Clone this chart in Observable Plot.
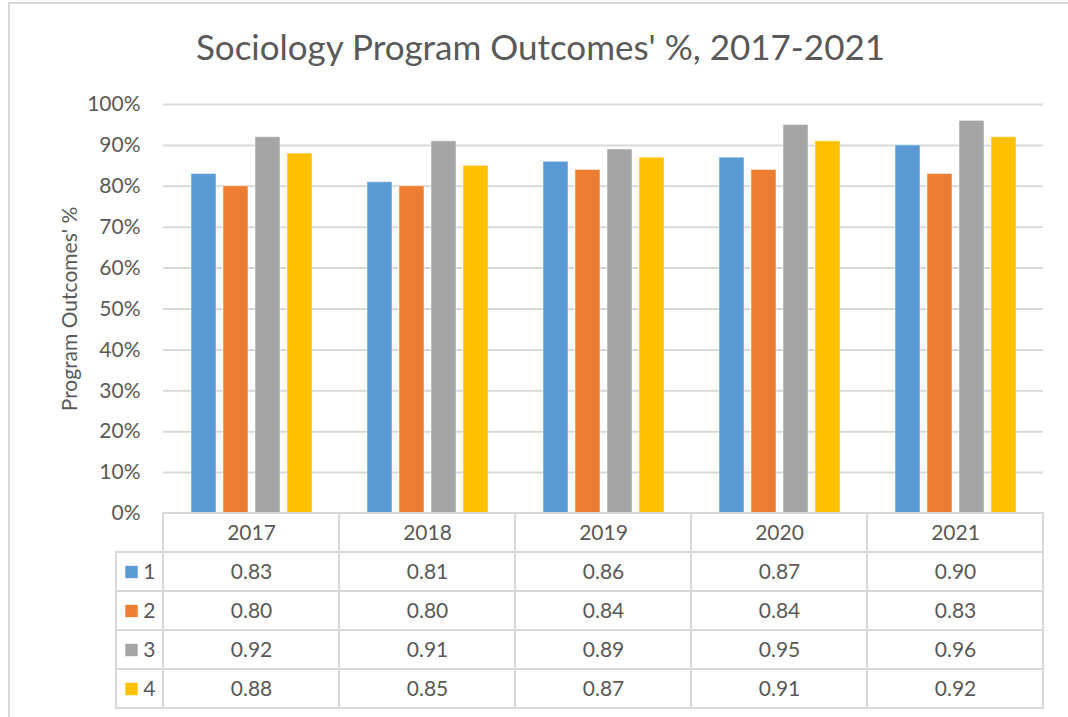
<!DOCTYPE html>
<html><head><meta charset="utf-8">
<script src="https://cdn.jsdelivr.net/npm/d3@7"></script>
<script src="https://cdn.jsdelivr.net/npm/@observablehq/plot@0.6"></script>
<style>
body{margin:0;background:#fff;width:1068px;height:717px;overflow:hidden;position:relative;font-family:Lato,sans-serif;}
#frame{position:absolute;left:8px;top:2px;width:1100px;height:800px;border-top:2px solid #d9d9d9;border-left:2px solid #d9d9d9;}
#title{position:absolute;left:0;width:1081px;top:25px;text-align:center;font-size:35px;color:#595959;white-space:nowrap;}
#chart,#table{position:absolute;left:0;}
#chart{top:0}
#table{top:500px}
</style></head><body>
<div id="frame"></div>
<div id="title"></div>
<div id="chart"></div><div id="table"></div>
<script>
const titleText = "Sociology Program Outcomes' %, 2017-2021";
const yLabel = "Program Outcomes' %";
const years = ["2017","2018","2019","2020","2021"];
const seriesNames = ["1","2","3","4"];
const s1 = [0.83,0.81,0.86,0.87,0.90];
const s2 = [0.80,0.80,0.84,0.84,0.83];
const s3 = [0.92,0.91,0.89,0.95,0.96];
const s4 = [0.88,0.85,0.87,0.91,0.92];
const colors = ["#5B9BD5","#ED7D31","#A5A5A5","#FFC000"];
const yTicks = [0,0.1,0.2,0.3,0.4,0.5,0.6,0.7,0.8,0.9,1.0];

document.getElementById("title").textContent = titleText;

const seriesValues = [s1,s2,s3,s4];
const data = years.flatMap((yr,i)=> seriesNames.map((s,j)=>({year:yr, series:s, value:seriesValues[j][i]})));
const textColor = "#595959";
const gridColor = "#d9d9d9";
const baseStyle = {fontFamily:"Lato, sans-serif", fontSize:"21px", color:textColor, background:"transparent", overflow:"visible"};

const chart = Plot.plot({
  width:1068, height:525, marginTop:104, marginBottom:12, marginLeft:163, marginRight:25,
  style: baseStyle,
  fx:{domain:years, padding:0, axis:null},
  x:{domain:seriesNames, paddingInner:0.22, paddingOuter:0.86, axis:null},
  y:{domain:[0,1], ticks:yTicks, tickFormat:d3.format(".0%"), tickSize:0, tickPadding:23, label:null},
  color:{domain:seriesNames, range:colors},
  marks:[
    Plot.ruleY(yTicks.slice(1), {stroke:gridColor, strokeWidth:2}),
    Plot.barY(data, {fx:"year", x:"series", y:"value", fill:"series", stroke:"#ffffff", strokeOpacity:0.5, strokeWidth:1}),
    Plot.text([yLabel], {fx:()=>years[0], text:d=>d, frameAnchor:"left", rotate:-90, dx:-93, textAnchor:"middle", fontSize:21, fill:textColor})
  ]
});
document.getElementById("chart").appendChild(chart);

// data table
const keyW = 47/176;
const fmt = d3.format(".2f");
const headerCells = years.map((yr,i)=>({x1:i, x2:i+1, row:"header", text:yr}));
const valueCells = seriesNames.flatMap((s,j)=> years.map((yr,i)=>({x1:i, x2:i+1, row:s, text:fmt(seriesValues[j][i])})));
const keyCells = seriesNames.map(s=>({x1:-keyW, x2:0, row:s}));
const cells = [...headerCells, ...valueCells];

const table = Plot.plot({
  width:1068, height:220, marginTop:13, marginBottom:12, marginLeft:116, marginRight:25,
  style: baseStyle,
  x:{type:"linear", domain:[-keyW, years.length], axis:null},
  y:{type:"band", domain:["header", ...seriesNames], padding:0, axis:null},
  color:{domain:seriesNames, range:colors},
  marks:[
    Plot.barX([...cells, ...keyCells], {x1:"x1", x2:"x2", y:"row", fill:"white", stroke:gridColor, strokeWidth:2}),
    Plot.text(cells, {x:d=>(d.x1+d.x2)/2, y:"row", text:"text", fill:textColor}),
    Plot.dot(seriesNames, {x:()=>-keyW, y:d=>d, symbol:"square", fill:d=>d, r:7, dx:15}),
    Plot.text(seriesNames, {x:()=>0, y:d=>d, text:d=>d, textAnchor:"end", dx:-8, fill:textColor})
  ]
});
document.getElementById("table").appendChild(table);
</script>
</body></html>
